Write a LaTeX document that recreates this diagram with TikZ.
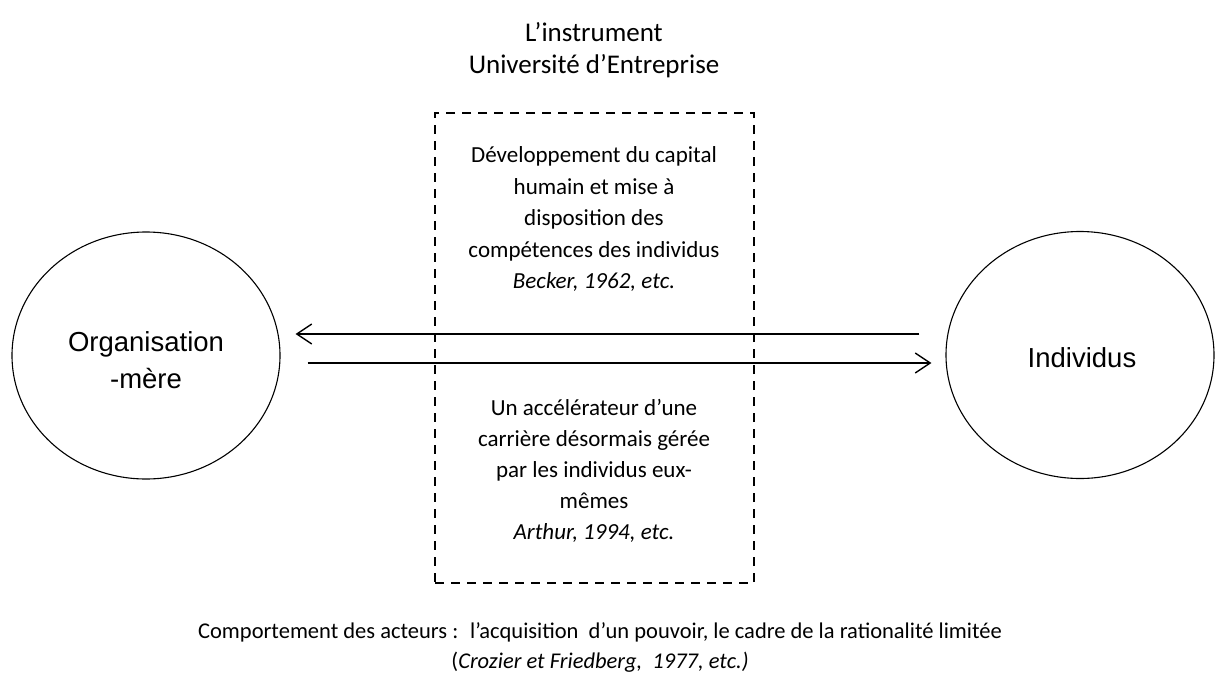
\documentclass[tikz,border=0pt]{standalone}
\usepackage{fontspec}
\setmainfont{Carlito}
\newfontfamily\arialf{Liberation Sans}
\usetikzlibrary{shapes.geometric,arrows.meta}
\tikzset{
  circ/.style={draw, line width=1.1pt, ellipse, minimum width=268pt, minimum height=247pt, inner sep=0pt},
  circtext/.style={font=\arialf\fontsize{27.5}{37}\selectfont, align=center, inner sep=0pt},
  boxtext/.style={font=\fontsize{23}{31.5}\selectfont, align=center, inner sep=0pt},
  boxtextlow/.style={font=\fontsize{23}{31}\selectfont, align=center, inner sep=0pt},
  titletext/.style={font=\fontsize{27}{32}\selectfont, align=center, inner sep=0pt},
  foottext/.style={font=\fontsize{22.5}{30}\selectfont, align=center, inner sep=0pt},
  dbox/.style={draw, line width=1.3pt, dash pattern=on 9pt off 7pt, minimum width=319pt, minimum height=470pt, inner sep=0pt},
  arr/.style={line width=1.4pt, -{Straight Barb[length=15pt, width=20pt, line width=1.4pt]}}
}
\begin{document}
\begin{tikzpicture}[x=1pt,y=-1pt]
\useasboundingbox (0,0) rectangle (1215,675);
\node[circ] (org) at (146,355.5) {};
\node[circ] (ind) at (1080,355) {};
\node[circtext] (orgt) at (146,360) {Organisation\\-mère};
\node[circtext] (indt) at (1082,358) {Individus};
\node[dbox] (box) at (594.5,348) {};
\node[titletext] (title) at (594,50) {L’instrument\\Université d’Entreprise};
\node[boxtext] (up) at (594,219) {Développement du capital\\humain et mise à\\disposition des\\compétences des individus\\\textit{Becker, 1962, etc.}};
\node[boxtextlow] (low) at (594,471) {Un accélérateur d’une\\carrière désormais gérée\\par les individus eux-\\mêmes\\\textit{Arthur, 1994, etc.}};
\node[foottext] (foot) at (600,647) {Comportement des acteurs :~ l’acquisition~ d’un pouvoir, le cadre de la rationalité limitée\\(\textit{Crozier et Friedberg,~ 1977, etc.)}};
\coordinate (yup) at (600,334);
\coordinate (ylow) at (600,363);
\draw[arr, shorten <=26pt, shorten >=15pt] (ind.west |- yup) -- (org.east |- yup);
\draw[arr, shorten <=27pt, shorten >=14pt] (org.east |- ylow) -- (ind.west |- ylow);
\end{tikzpicture}
\end{document}
